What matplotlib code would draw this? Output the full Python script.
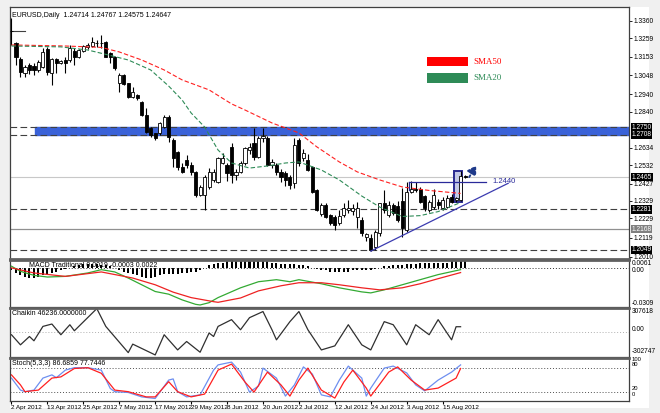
import matplotlib
matplotlib.use("Agg")
import matplotlib.pyplot as plt
from matplotlib.patches import Rectangle

plt.rcParams["font.family"] = ["Liberation Sans", "DejaVu Sans"]

# ---- price data, bar index 0 = 2 Apr 2012 ----
opens = [1.3300, 1.3231, 1.3139, 1.3063, 1.3107, 1.3100, 1.3078, 1.3097, 1.3196, 1.3059,
         1.3139, 1.3116, 1.3135, 1.3135, 1.3187, 1.3154, 1.3188, 1.3212, 1.3215, 1.3232,
         1.3234, 1.3240, 1.3173, 1.3154, 1.3005, 1.3049, 1.3002, 1.2925, 1.2935, 1.2897,
         1.2821, 1.2745, 1.2716, 1.2716, 1.2754, 1.2811, 1.2678, 1.2610, 1.2525, 1.2563,
         1.2535, 1.2496, 1.2363, 1.2363, 1.2410, 1.2450, 1.2439, 1.2545, 1.2535, 1.2640,
         1.2477, 1.2496, 1.2544, 1.2620, 1.2660, 1.2580, 1.2690, 1.2687, 1.2535, 1.2535,
         1.2496, 1.2487, 1.2468, 1.2430, 1.2678, 1.2573, 1.2563, 1.2525, 1.2391, 1.2254,
         1.2306, 1.2248, 1.2240, 1.2200, 1.2248, 1.2275, 1.2270, 1.2240, 1.2220, 1.2125,
         1.2115, 1.2067, 1.2144, 1.2316, 1.2250, 1.2306, 1.2300, 1.2330, 1.2163, 1.2382,
         1.2400, 1.2395, 1.2355, 1.2277, 1.2296, 1.2325, 1.2288, 1.2297, 1.2354, 1.2335,
         1.2335, 1.24714]
highs = [1.3375, 1.3240, 1.3154, 1.3107, 1.3118, 1.3115, 1.3135, 1.3202, 1.3210, 1.3145,
         1.3145, 1.3137, 1.3154, 1.3221, 1.3202, 1.3200, 1.3222, 1.3230, 1.3268, 1.3250,
         1.3278, 1.3245, 1.3180, 1.3160, 1.3059, 1.3055, 1.3005, 1.2982, 1.2940, 1.2900,
         1.2859, 1.2750, 1.2720, 1.2780, 1.2820, 1.2821, 1.2689, 1.2615, 1.2546, 1.2592,
         1.2550, 1.2500, 1.2420, 1.2475, 1.2517, 1.2510, 1.2582, 1.2603, 1.2545, 1.2659,
         1.2510, 1.2555, 1.2640, 1.2660, 1.2745, 1.2700, 1.2745, 1.2700, 1.2570, 1.2545,
         1.2510, 1.2500, 1.2480, 1.2687, 1.2690, 1.2625, 1.2600, 1.2530, 1.2395, 1.2320,
         1.2320, 1.2255, 1.2250, 1.2280, 1.2320, 1.2334, 1.2310, 1.2325, 1.2240, 1.2146,
         1.2140, 1.2160, 1.2320, 1.2390, 1.2330, 1.2320, 1.2330, 1.2405, 1.2437, 1.2443,
         1.2440, 1.2410, 1.2365, 1.2335, 1.2395, 1.2340, 1.2350, 1.2365, 1.2370, 1.2350,
         1.2500, 1.24767]
lows = [1.3221, 1.3107, 1.3040, 1.3040, 1.3055, 1.3049, 1.3065, 1.3088, 1.3049, 1.2992,
        1.3059, 1.3110, 1.3059, 1.3125, 1.3107, 1.3145, 1.3180, 1.3200, 1.3210, 1.3211,
        1.3202, 1.3150, 1.3116, 1.3080, 1.2954, 1.2990, 1.2915, 1.2916, 1.2906, 1.2815,
        1.2716, 1.2695, 1.2680, 1.2705, 1.2745, 1.2666, 1.2525, 1.2506, 1.2490, 1.2517,
        1.2477, 1.2352, 1.2355, 1.2277, 1.2400, 1.2440, 1.2430, 1.2540, 1.2443, 1.2432,
        1.2449, 1.2490, 1.2535, 1.2600, 1.2565, 1.2575, 1.2665, 1.2530, 1.2520, 1.2480,
        1.2440, 1.2415, 1.2397, 1.2401, 1.2530, 1.2560, 1.2500, 1.2375, 1.2270, 1.2245,
        1.2230, 1.2190, 1.2160, 1.2190, 1.2240, 1.2260, 1.2250, 1.2174, 1.2130, 1.2100,
        1.2042, 1.2050, 1.2130, 1.2260, 1.2240, 1.2250, 1.2210, 1.2124, 1.2150, 1.2375,
        1.2380, 1.2320, 1.2270, 1.2265, 1.2285, 1.2285, 1.2280, 1.2290, 1.2318, 1.2325,
        1.2330, 1.24575]
closes = [1.3302, 1.3154, 1.3068, 1.3097, 1.3078, 1.3075, 1.3125, 1.3183, 1.3068, 1.3139,
          1.3120, 1.3131, 1.3116, 1.3202, 1.3151, 1.3192, 1.3215, 1.3221, 1.3240, 1.3235,
          1.3233, 1.3154, 1.3150, 1.3088, 1.3049, 1.2998, 1.2925, 1.2954, 1.2916, 1.2821,
          1.2725, 1.2706, 1.2687, 1.2773, 1.2811, 1.2695, 1.2573, 1.2525, 1.2496, 1.2535,
          1.2496, 1.2363, 1.2410, 1.2468, 1.2496, 1.2496, 1.2573, 1.2573, 1.2487, 1.2477,
          1.2496, 1.2544, 1.2630, 1.2640, 1.2580, 1.2690, 1.2700, 1.2535, 1.2554, 1.2496,
          1.2468, 1.2449, 1.2420, 1.2649, 1.2545, 1.2601, 1.2506, 1.2382, 1.2277, 1.2306,
          1.2239, 1.2201, 1.2191, 1.2245, 1.2287, 1.2290, 1.2288, 1.2290, 1.2144, 1.2142,
          1.2048, 1.2153, 1.2316, 1.2280, 1.2306, 1.2259, 1.2220, 1.2172, 1.2382, 1.2400,
          1.2390, 1.2325, 1.2287, 1.2325, 1.2363, 1.2306, 1.2334, 1.2343, 1.2325, 1.2343,
          1.2471, 1.24647]

date_idx = [0, 8, 16, 24, 32, 40, 48, 56, 64, 72, 80, 88, 96]
date_labels = ["2 Apr 2012", "13 Apr 2012", "25 Apr 2012", "7 May 2012", "17 May 2012",
               "29 May 2012", "8 Jun 2012", "20 Jun 2012", "2 Jul 2012", "12 Jul 2012",
               "24 Jul 2012", "3 Aug 2012", "15 Aug 2012"]

# moving averages read at a few bars
sma50_idx = [0, 12, 20, 24, 29, 34, 38, 44, 49, 52, 58, 64, 68, 73, 77, 82, 87, 93, 100]
sma50_val = [1.3221, 1.3215, 1.3207, 1.3181, 1.3135, 1.3078, 1.3021, 1.2964, 1.2884, 1.2849,
             1.2775, 1.2718, 1.2638, 1.2552, 1.2495, 1.2449, 1.2409, 1.2389, 1.2372]
sma20_idx = [0, 11, 17, 22, 26, 31, 35, 38, 40, 43, 46, 49, 53, 57, 61, 64, 69, 73, 78, 82, 87, 91, 95, 100]
sma20_val = [1.3215, 1.3210, 1.3192, 1.3161, 1.3135, 1.3078, 1.2986, 1.2906, 1.2832, 1.2752,
             1.2620, 1.2546, 1.2517, 1.2529, 1.2546, 1.2552, 1.2506, 1.2449, 1.2357, 1.2294,
             1.2240, 1.2245, 1.2268, 1.2320]

# MACD Traditional
macd_idx = [0, 2, 5, 8, 12, 17, 20, 23, 26, 29, 32, 35, 38, 41, 42, 44, 46, 51, 55, 59,
            62, 64, 69, 73, 78, 80, 83, 87, 91, 95, 100]
macd_val = [0.0012, -0.0028, -0.0060, -0.0073, -0.0068, -0.0041, -0.0015, -0.0033, -0.0081,
            -0.0134, -0.0187, -0.0208, -0.0253, -0.0288, -0.0293, -0.0275, -0.0235, -0.0158,
            -0.0110, -0.0094, -0.0110, -0.0094, -0.0126, -0.0158, -0.0190, -0.0198, -0.0174,
            -0.0134, -0.0094, -0.0054, -0.0015]
signal_idx = [0, 5, 12, 20, 27, 32, 36, 40, 45, 46, 51, 55, 60, 64, 69, 73, 78, 82, 87, 91, 95, 100]
signal_val = [-0.0001, -0.0041, -0.0068, -0.0033, -0.0081, -0.0134, -0.0192, -0.0235, -0.0267,
              -0.0272, -0.0238, -0.0182, -0.0142, -0.0118, -0.0118, -0.0134, -0.0158, -0.0174,
              -0.0158, -0.0126, -0.0086, -0.0038]
hist_val = [-0.002, -0.004, -0.006, -0.007, -0.008, -0.008, -0.007, -0.006, -0.005,
            -0.004, -0.003, -0.002, -0.001, 0.000, 0.001,
            0.002, 0.003, 0.003, 0.003, 0.003, 0.002, 0.002, 0.001, 0.000,
            -0.002, -0.003, -0.004, -0.005, -0.006, -0.007, -0.008, -0.008, -0.007, -0.006, -0.005, -0.005,
            -0.005, -0.005, -0.004, -0.004, -0.003, -0.003, -0.002,
            0.000, 0.002, 0.003, 0.004, 0.004, 0.005, 0.005, 0.005, 0.006, 0.006, 0.006, 0.006,
            0.005, 0.005, 0.005, 0.004, 0.004, 0.003,
            0.003, 0.003, 0.003, 0.002, 0.002, 0.001,
            0.000, -0.001, -0.002, -0.002, -0.003, -0.003, -0.003, -0.003, -0.003, -0.002, -0.002,
            -0.002, -0.002, -0.002, -0.001,
            0.000, 0.001, 0.001, 0.002, 0.002, 0.002, 0.003, 0.003, 0.003, 0.004, 0.004, 0.004,
            0.004, 0.004, 0.004, 0.004, 0.005, 0.005, 0.005, 0.005]

# Chaikin oscillator
chaikin_idx = [0, 2, 4, 5, 7, 9, 11, 13, 14, 19, 21, 26, 27, 32, 34, 37, 39, 42, 44, 45, 46,
               49, 51, 53, 56, 58, 59, 62, 64, 66, 69, 72, 75, 78, 80, 83, 85, 88, 90, 93, 95,
               98, 99, 100]
chaikin_val = [-29000, -156000, -51000, -105000, 76000, 106000, -29000, 97000, 21000, 300000,
               76000, -254000, -147000, -283000, -29000, -220000, -114000, -249000, -7000,
               -51000, 76000, 161000, 34000, 186000, 263000, 34000, -93000, 136000, 263000,
               34000, -220000, -169000, 97000, -156000, -220000, 136000, 97000, -156000,
               97000, -29000, 161000, -93000, 72000, 72000]

# Stochastic (5,3,3)
stoch_idx = [0, 2, 3, 5, 7, 9, 10, 12, 14, 17, 20, 22, 23, 26, 29, 32, 35, 36, 37, 39, 42,
             45, 46, 49, 51, 53, 55, 56, 59, 61, 63, 65, 67, 69, 71, 73, 75, 78, 79, 80, 83,
             85, 88, 90, 92, 95, 98, 100]
stoch_main = [54, 24, 20, 24, 54, 62, 55, 74, 80, 80, 74, 28, 20, 18, 7, 3, 49, 52, 20, 7, 12,
              74, 87, 94, 69, 19, 34, 79, 54, 9, 37, 82, 64, 12, 7, 49, 84, 54, 9, 29, 79, 84,
              67, 37, 22, 49, 69, 87]
signal_s_idx = [0, 2, 3, 6, 9, 11, 14, 17, 20, 23, 26, 30, 32, 35, 37, 40, 43, 46, 49, 52,
                54, 57, 60, 62, 64, 66, 69, 72, 74, 76, 79, 80, 84, 86, 89, 92, 95, 99, 100]
stoch_signal = [62, 37, 20, 24, 54, 57, 78, 80, 66, 24, 20, 7, 7, 45, 20, 7, 14, 74, 89, 44,
                19, 69, 37, 9, 49, 79, 24, 4, 44, 74, 29, 9, 69, 82, 49, 24, 29, 54, 78]

price_ticks = [1.3360, 1.3259, 1.3153, 1.3048, 1.2940, 1.2840, 1.2634, 1.2532, 1.2427,
               1.2329, 1.2229, 1.2119, 1.2010]
marked_levels = [1.2750, 1.2708, 1.2281, 1.2049]
support_level = 1.2168
current_price = 1.24647

W, H = 660, 413


def box(x0, y0, x1, y1):
    return [x0 / W, 1 - y1 / H, (x1 - x0) / W, (y1 - y0) / H]


fig = plt.figure(figsize=(6.6, 4.13), dpi=100, facecolor="#f0f0f0")
fig.patches.append(Rectangle((10 / W, 1 - 408 / H), 639 / W, 401 / H,
                             transform=fig.transFigure, fc="white", ec="none", zorder=-5))

ax = fig.add_axes(box(10, 7, 629, 259))
ax_m = fig.add_axes(box(10, 260, 629, 307), sharex=ax)
ax_c = fig.add_axes(box(10, 308, 629, 356.5), sharex=ax)
ax_s = fig.add_axes(box(10, 357.5, 629, 401), sharex=ax)

for a in (ax, ax_m, ax_c, ax_s):
    a.set_facecolor("white")
    for s in a.spines.values():
        s.set_color("#404040")
        s.set_linewidth(0.9)
    a.tick_params(axis="x", bottom=False, labelbottom=False)
    a.yaxis.tick_right()
    a.tick_params(axis="y", length=2, width=0.6, labelsize=4.8, pad=1, colors="#000000")
for a in (ax_m, ax_c, ax_s):
    a.spines["top"].set_linewidth(2)
    a.spines["top"].set_color("#606060")
ax.spines["bottom"].set_linewidth(2)
ax.spines["bottom"].set_color("#606060")

ax.set_xlim(-0.33, 137.5)
ax.set_ylim(1.1997, 1.3438)

# horizontal levels
ax.axhspan(1.2708, 1.2750, xmin=(5.2 + 0.33) / 137.83, xmax=1, color="#3a62d8", zorder=1)
for lv in marked_levels:
    ax.axhline(lv, color="#404040", lw=0.8, ls=(0, (6, 3)), zorder=2)
ax.axhline(support_level, color="#909090", lw=0.9, zorder=1)
ax.axhline(current_price, color="#c8c8c8", lw=0.8, zorder=1)
ax.plot([-0.3, 3], [1.3300, 1.3300], color="#404040", lw=0.8, zorder=3)

# candles
for i in range(len(closes)):
    o, h, l, c = opens[i], highs[i], lows[i], closes[i]
    ax.vlines(i, l, h, color="black", lw=0.8, zorder=3)
    body = max(abs(c - o), 0.00006)
    ax.add_patch(Rectangle((i - 0.35, min(o, c)), 0.7, body,
                           fc="white" if c >= o else "black", ec="black", lw=0.6, zorder=4))

ax.plot(sma50_idx, sma50_val, color="#ff2020", lw=0.8, ls=(0, (4, 2)), zorder=5)
ax.plot(sma20_idx, sma20_val, color="#2e8b57", lw=0.8, ls=(0, (4, 2)), zorder=5)

# drawn objects
ax.plot([80, 110.6], [1.2042, 1.2430], color="#3b3bb0", lw=0.9, zorder=5)
ax.plot([88.5, 105.7], [1.2440, 1.2440], color="#2a2a9a", lw=0.9, zorder=5)
ax.plot([88.5, 88.5], [1.2440, 1.2391], color="#2a2a9a", lw=0.9, zorder=5)
ax.text(107.2, 1.2440, "1.2440", color="#2a2a9a", fontsize=5.5, va="center", ha="left")
ax.add_patch(Rectangle((98.5, 1.2325), 1.8, 0.0177, fc="#c4c9e6", ec="#2a2a90", lw=1.4, zorder=2))
ax.annotate("", xy=(103.8, 1.2545), xytext=(101.6, 1.2452),
            arrowprops=dict(arrowstyle="-|>,head_length=0.5,head_width=0.3", color="#1f3a8a",
                            lw=1.4, linestyle=(0, (1, 1.2))), zorder=6)

# legend boxes
fig.patches.append(Rectangle((427 / W, 1 - 66 / H), 41 / W, 9 / H, transform=fig.transFigure,
                             fc="#ff0000", ec="none", zorder=5))
fig.patches.append(Rectangle((427 / W, 1 - 83 / H), 41 / W, 10 / H, transform=fig.transFigure,
                             fc="#2e8b57", ec="none", zorder=5))
fig.text(473 / W, 1 - 62 / H, "SMA50", color="#ff0000", fontsize=6.5, va="center",
         family="Liberation Serif", zorder=6)
fig.text(473 / W, 1 - 78 / H, "SMA20", color="#2e8b57", fontsize=6.5, va="center",
         family="Liberation Serif", zorder=6)

ax.text(0.004, 0.982, "EURUSD,Daily  1.24714 1.24767 1.24575 1.24647", transform=ax.transAxes,
        fontsize=5, va="top")

ax.set_yticks(price_ticks)
ax.set_yticklabels([f"{v:.4f}" for v in price_ticks])
for lv, bg in [(1.2750, "black"), (1.2708, "black"), (1.2465, "black"), (1.2281, "black"),
               (support_level, "#808080"), (1.2049, "black")]:
    ax.text(1.004, lv, f"{lv:.4f}", transform=ax.get_yaxis_transform(), fontsize=4.8,
            color="white", va="center", ha="left", zorder=7,
            bbox=dict(boxstyle="square,pad=0.12", fc=bg, ec="none"))


def side_labels(a, items, size=4.8):
    a.set_yticks([])
    for yf, txt in items:
        a.text(1.004, yf, txt, transform=a.transAxes, fontsize=size, va="center", ha="left")


# MACD
ax_m.set_ylim(-0.0309, 0.0061)
ax_m.bar(range(len(hist_val)), hist_val, width=0.45, color="black", zorder=2)
ax_m.axhline(0, color="#303030", lw=0.7, ls=(0, (1, 2)))
ax_m.plot(macd_idx, macd_val, color="#33aa33", lw=0.9, zorder=3)
ax_m.plot(signal_idx, signal_val, color="#ee2222", lw=0.9, zorder=3)
side_labels(ax_m, [(0.92, "0.0061"), (0.78, "0.00"), (0.08, "-0.0309")])
ax_m.text(0.03, 0.96, "MACD Traditional 0.0019 -0.0003 0.0022", transform=ax_m.transAxes,
          fontsize=5, va="top", zorder=5)

# Chaikin
ax_c.set_ylim(-302747, 307618)
ax_c.axhline(0, color="#b0b0b0", lw=0.7, ls=(0, (1, 2)))
ax_c.plot(chaikin_idx, chaikin_val, color="#303030", lw=0.9)
side_labels(ax_c, [(0.92, "307618"), (0.55, "0.00"), (0.10, "-302747")])
ax_c.text(0.004, 0.95, "Chaikin 46236.0000000", transform=ax_c.transAxes, fontsize=5, va="top")

# Stochastic
ax_s.set_ylim(-3.3, 105.5)
ax_s.axhline(80, color="#505050", lw=0.7, ls=(0, (1, 2)))
ax_s.axhline(20, color="#505050", lw=0.7, ls=(0, (1, 2)))
ax_s.plot(stoch_idx, stoch_main, color="#6e8ff0", lw=0.9)
ax_s.plot(signal_s_idx, stoch_signal, color="#ff2020", lw=0.9)
side_labels(ax_s, [(0.96, "100"), (0.83, "80"), (0.29, "20"), (0.15, "0")], size=4.2)
ax_s.text(0.004, 0.95, "Stoch(5,3,3) 86.6859 77.7446", transform=ax_s.transAxes, fontsize=5,
          va="top")

ax_s.set_xticks(date_idx)
ax_s.set_xticklabels(date_labels)
ax_s.tick_params(axis="x", bottom=True, labelbottom=True, length=2, labelsize=4.6, pad=1)
for lab in ax_s.get_xticklabels():
    lab.set_ha("left")

fig.savefig("out.png", dpi=100, facecolor=fig.get_facecolor())
